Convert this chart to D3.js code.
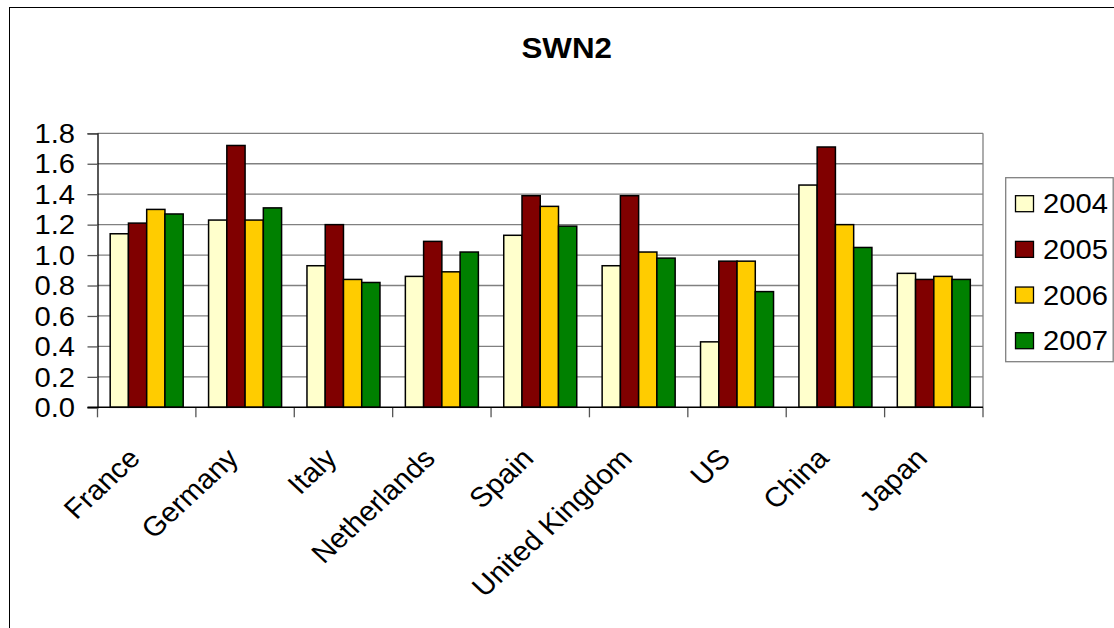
<!DOCTYPE html>
<html>
<head>
<meta charset="utf-8">
<script src="https://cdn.jsdelivr.net/npm/d3@7"></script>
<style>
  html, body { margin: 0; padding: 0; background: #fff; }
  svg { display: block; font-family: "Liberation Sans", Arial, sans-serif; }
</style>
</head>
<body>
<svg id="chart" width="1114" height="628"></svg>
<script>
// SWN2 by country, 2004–2007
const categories = ["France", "Germany", "Italy", "Netherlands", "Spain", "United Kingdom", "US", "China", "Japan"];
const years = ["2004", "2005", "2006", "2007"];
const values2004 = [1.14, 1.23, 0.93, 0.86, 1.13, 0.93, 0.43, 1.46, 0.88];
const values2005 = [1.21, 1.72, 1.20, 1.09, 1.39, 1.39, 0.96, 1.71, 0.84];
const values2006 = [1.30, 1.23, 0.84, 0.89, 1.32, 1.02, 0.96, 1.20, 0.86];
const values2007 = [1.27, 1.31, 0.82, 1.02, 1.19, 0.98, 0.76, 1.05, 0.84];
const yTicks = [0, 0.2, 0.4, 0.6, 0.8, 1.0, 1.2, 1.4, 1.6, 1.8];
const seriesColors = ["#FFFFCC", "#800000", "#FFCC00", "#008000"];

const seriesValues = [values2004, values2005, values2006, values2007];
const SX = 1.08; // slight horizontal widening of text

const svg = d3.select("#chart");

// outer chart frame
svg.append("rect")
  .attr("x", 9.5).attr("y", 7.5)
  .attr("width", 1200).attr("height", 700)
  .attr("fill", "#fff").attr("stroke", "#000").attr("stroke-width", 1);

const plot = { left: 97.5, right: 983, top: 133.3, bottom: 407.3 };

const x = d3.scaleBand().domain(categories).range([plot.left, plot.right]).paddingInner(0).paddingOuter(0);
const pad = x.bandwidth() * 0.129;
const xs = d3.scaleBand().domain(years).range([pad, x.bandwidth() - pad]).padding(0);
const y = d3.scaleLinear().domain([0, 1.8]).range([plot.bottom, plot.top]);

// gridlines
svg.append("g").selectAll("line").data(yTicks.slice(1)).join("line")
  .attr("x1", plot.left).attr("x2", plot.right)
  .attr("y1", d => y(d)).attr("y2", d => y(d))
  .attr("stroke", "#808080").attr("stroke-width", 1.3);

// right border of plot area
svg.append("line")
  .attr("x1", plot.right).attr("x2", plot.right)
  .attr("y1", plot.top).attr("y2", plot.bottom)
  .attr("stroke", "#808080").attr("stroke-width", 1.3);

// bars
const groups = svg.append("g").selectAll("g").data(categories).join("g")
  .attr("transform", d => `translate(${x(d)},0)`);
groups.selectAll("rect")
  .data((c, i) => years.map((yr, k) => ({ yr, k, v: seriesValues[k][i] })))
  .join("rect")
  .attr("x", d => xs(d.yr))
  .attr("width", xs.bandwidth())
  .attr("y", d => y(d.v))
  .attr("height", d => y(0) - y(d.v))
  .attr("fill", d => seriesColors[d.k])
  .attr("stroke", "#000").attr("stroke-width", 1.5);

// y axis
const yAxis = svg.append("g").attr("transform", `translate(${plot.left},0)`)
  .call(d3.axisLeft(y).tickValues(yTicks).tickSize(10).tickFormat(""));
yAxis.select(".domain").attr("stroke", "#000").attr("stroke-width", 1.3);
yAxis.selectAll(".tick line").attr("stroke", "#555").attr("stroke-width", 1.3);

svg.append("g").selectAll("text").data(yTicks).join("text")
  .attr("transform", d => `translate(75,${y(d)}) scale(${SX},1)`)
  .attr("dy", "0.36em")
  .attr("text-anchor", "end")
  .attr("font-size", 27)
  .attr("fill", "#000")
  .text(d => d3.format(".1f")(d));

// x axis with boundary ticks
const boundaries = categories.map(c => x(c)).concat([plot.right]);
svg.append("g").selectAll("line").data(boundaries).join("line")
  .attr("x1", d => d).attr("x2", d => d)
  .attr("y1", plot.bottom).attr("y2", plot.bottom + 10)
  .attr("stroke", "#555").attr("stroke-width", 1.3);
svg.append("line")
  .attr("x1", plot.left - 10).attr("x2", plot.right)
  .attr("y1", plot.bottom).attr("y2", plot.bottom)
  .attr("stroke", "#000").attr("stroke-width", 1.5);

// category labels
svg.append("g").selectAll("text").data(categories).join("text")
  .attr("transform", d => `translate(${x(d) + x.bandwidth() / 2 - 5},460) scale(${SX},1) rotate(-45)`)
  .attr("text-anchor", "end")
  .attr("font-size", 27.5)
  .attr("fill", "#000")
  .text(d => d);

// title
svg.append("text")
  .attr("transform", `translate(566.7,57.7) scale(${SX},1)`)
  .attr("text-anchor", "middle")
  .attr("font-size", 29)
  .attr("font-weight", "bold")
  .text("SWN2");

// legend
const legend = svg.append("g");
legend.append("rect")
  .attr("x", 1005.7).attr("y", 177.7)
  .attr("width", 107.5).attr("height", 184)
  .attr("fill", "#fff").attr("stroke", "#808080").attr("stroke-width", 1.3);
const ly = d3.scalePoint().domain(years).range([203.7, 340.7]);
legend.selectAll("rect.sw").data(years).join("rect")
  .attr("class", "sw")
  .attr("x", 1015.5).attr("y", d => ly(d) - 8)
  .attr("width", 18).attr("height", 16)
  .attr("fill", (d, i) => seriesColors[i])
  .attr("stroke", "#000").attr("stroke-width", 1.3);
legend.selectAll("text").data(years).join("text")
  .attr("transform", d => `translate(1043,${ly(d)}) scale(${SX},1)`)
  .attr("dy", "0.36em")
  .attr("font-size", 27)
  .text(d => d);
</script>
</body>
</html>
